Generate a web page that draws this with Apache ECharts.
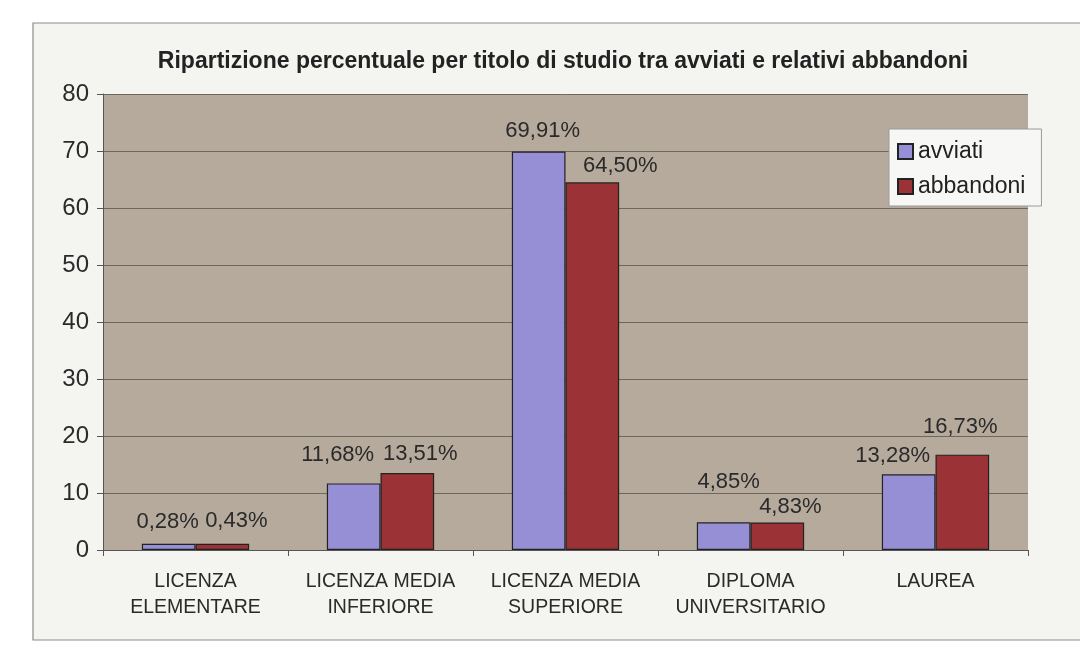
<!DOCTYPE html>
<html>
<head>
<meta charset="utf-8">
<script src="https://cdn.jsdelivr.net/npm/echarts@6/dist/echarts.min.js"></script>
<style>
html,body{margin:0;padding:0;background:#ffffff;}
#chart{width:1080px;height:649px;}
</style>
</head>
<body>
<div id="chart"></div>
<script>
var categories = ['LICENZA\nELEMENTARE', 'LICENZA MEDIA\nINFERIORE', 'LICENZA MEDIA\nSUPERIORE', 'DIPLOMA\nUNIVERSITARIO', 'LAUREA'];
var avviati = [1.1, 11.68, 69.91, 4.85, 13.28];
var abbandoni = [1.1, 13.51, 64.50, 4.83, 16.73];
var avviatiLabels = ['0,28%', '11,68%', '69,91%', '4,85%', '13,28%'];
var abbandoniLabels = ['0,43%', '13,51%', '64,50%', '4,83%', '16,73%'];
var yTicks = [0, 10, 20, 30, 40, 50, 60, 70, 80];

// label placement tweaks (style only)
var avviatiOffsets = [[-1, -11], [-16, -17], [4, -10], [5, -29], [-16, -7]];
var abbandoniOffsets = [[14, -12], [13, -8], [28, -5], [13, -5], [-2, -17]];

function build(values, labels, offsets) {
  return values.map(function (v, i) {
    return {
      value: v,
      label: { formatter: labels[i], offset: offsets[i] }
    };
  });
}

var chart = echarts.init(document.getElementById('chart'));
var labelStyle = {
  show: true, position: 'top', distance: 0,
  fontFamily: 'Liberation Sans', fontSize: 22, color: '#2a2a2a'
};
chart.setOption({
  animation: false,
  backgroundColor: '#ffffff',
  graphic: [{
    type: 'rect', z: -10,
    shape: { x: 33, y: 23, width: 1100, height: 617 },
    style: { fill: '#f4f4f1', stroke: '#8c8c8c', lineWidth: 1.2 }
  }],
  title: {
    text: 'Ripartizione percentuale per titolo di studio tra avviati e relativi abbandoni',
    left: 558, textAlign: 'center', top: 45,
    textStyle: { fontFamily: 'Liberation Sans', fontSize: 23, fontWeight: 'bold', color: '#222' }
  },
  legend: {
    orient: 'vertical', left: 889, top: 129,
    backgroundColor: '#f7f7f5', borderColor: '#9a9a9a', borderWidth: 1,
    padding: [11, 16, 8, 8], itemGap: 12,
    itemWidth: 15, itemHeight: 15, icon: 'rect',
    textStyle: { fontFamily: 'Liberation Sans', fontSize: 23, color: '#222' },
    data: ['avviati', 'abbandoni']
  },
  grid: {
    left: 103, right: 52, top: 94, bottom: 99,
    show: true, backgroundColor: '#b5aa9c', borderWidth: 0
  },
  xAxis: {
    type: 'category', data: categories,
    axisLine: { lineStyle: { color: '#555', width: 1 } },
    axisTick: { show: true, length: 6, lineStyle: { color: '#555' } },
    axisLabel: { interval: 0, fontFamily: 'Liberation Sans', fontSize: 19.5, color: '#2a2a2a', margin: 19, lineHeight: 26 }
  },
  yAxis: {
    type: 'value', min: 0, max: 80, interval: 10,
    axisLine: { show: true, lineStyle: { color: '#555' } },
    axisTick: { show: true, length: 6, lineStyle: { color: '#555' } },
    axisLabel: {
      fontFamily: 'Liberation Sans', fontSize: 24, color: '#2a2a2a', margin: 14,
      formatter: function (v) { return yTicks.indexOf(v) >= 0 ? String(v) : ''; }
    },
    splitLine: { lineStyle: { color: '#6e675d', width: 1 } }
  },
  series: [{
    name: 'avviati', type: 'bar', barGap: '0%', barCategoryGap: '42%',
    itemStyle: { color: '#978fd6', borderColor: '#222', borderWidth: 1.2 },
    label: labelStyle,
    data: build(avviati, avviatiLabels, avviatiOffsets)
  }, {
    name: 'abbandoni', type: 'bar',
    itemStyle: { color: '#9a3236', borderColor: '#222', borderWidth: 1.2 },
    label: labelStyle,
    data: build(abbandoni, abbandoniLabels, abbandoniOffsets)
  }]
});
</script>
</body>
</html>
